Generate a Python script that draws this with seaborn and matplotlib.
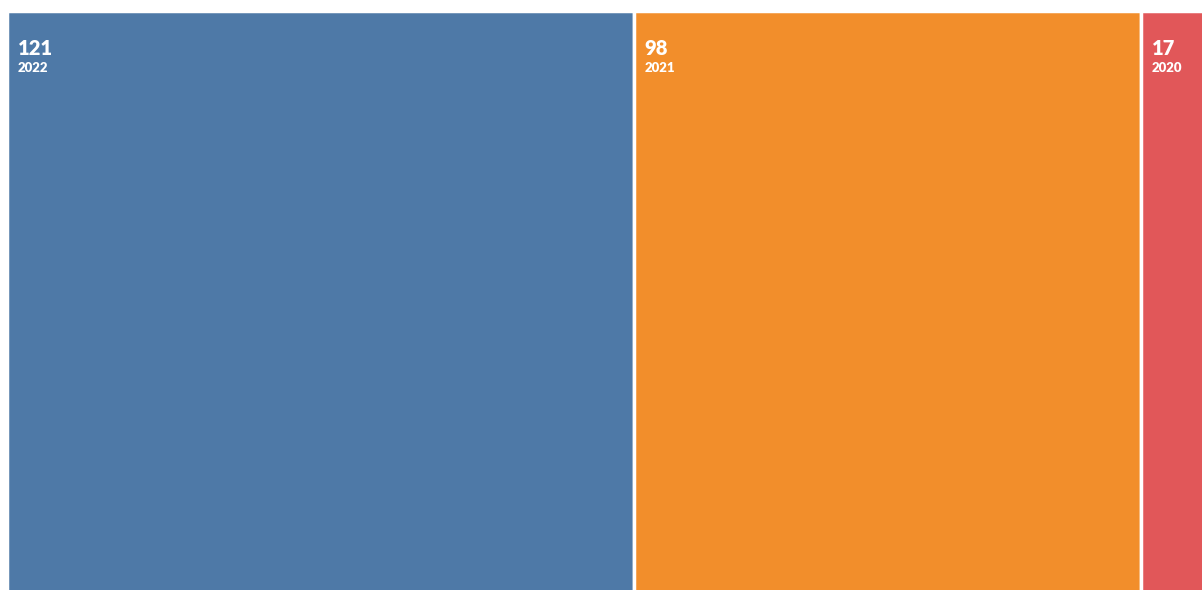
import matplotlib
matplotlib.use("Agg")
import matplotlib.pyplot as plt
import seaborn as sns
import numpy as np

# Count per year, laid out as a single-row treemap
years = ["2022", "2021", "2020"]
counts = [121, 98, 17]
colors = ["#4e79a7", "#f28e2b", "#e15759"]

sns.set_theme(style="white")
plt.rcParams["font.family"] = ["Lato", "DejaVu Sans"]

W_PX, H_PX, DPI = 1202, 590, 100
fig = plt.figure(figsize=(W_PX / DPI, H_PX / DPI), dpi=DPI)
fig.patch.set_facecolor("white")

# Axes in pixel units (treemap runs past the right edge of the canvas)
left_px, top_px, width_px, bottom_px = 7.25, 11.25, 1222.0, 592.0
ax = fig.add_axes([left_px / W_PX, 1 - bottom_px / H_PX,
                   width_px / W_PX, (bottom_px - top_px) / H_PX])

total = float(np.sum(counts))
lefts = np.concatenate([[0], np.cumsum(counts)[:-1]])
palette = sns.color_palette(colors)

ax.barh(y=[0] * len(counts), width=counts, left=lefts, height=1.0,
        align="edge", color=palette, edgecolor="white", linewidth=2.5)

for lft, cnt, yr in zip(lefts, counts, years):
    ax.annotate(str(cnt), xy=(lft, 1.0), xytext=(10.5, -44),
                textcoords="offset pixels", ha="left", va="baseline",
                color="white", fontsize=14.5, fontweight="heavy")
    ax.annotate(yr, xy=(lft, 1.0), xytext=(10.5, -61),
                textcoords="offset pixels", ha="left", va="baseline",
                color="white", fontsize=9.5, fontweight="heavy")

ax.set_xlim(0, total)
ax.set_ylim(0, 1)
ax.axis("off")

fig.savefig("out.png", dpi=DPI, facecolor="white")
